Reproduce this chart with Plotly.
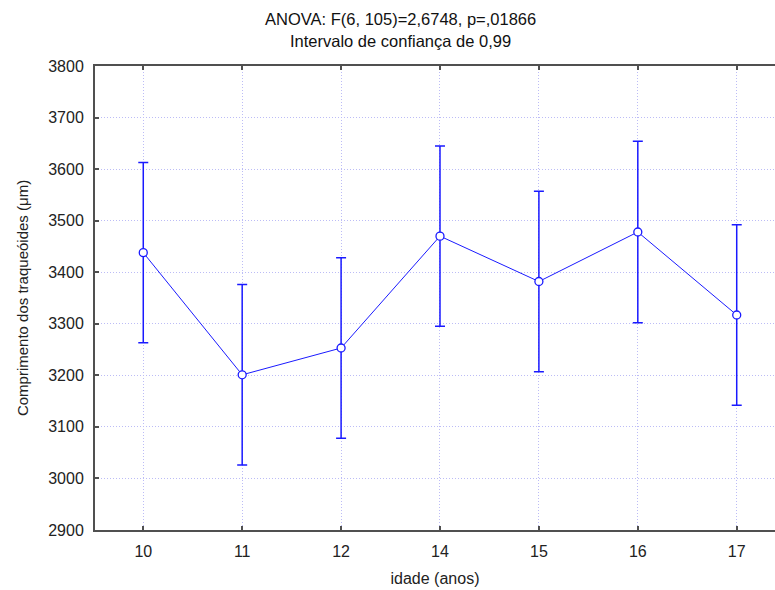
import plotly.graph_objects as go

# Age classes (years) and mean tracheid length with 0.99 confidence half-widths
idade = ["10", "11", "12", "14", "15", "16", "17"]
media = [3438, 3201, 3253, 3470, 3382, 3478, 3317]
ic99 = [175, 175, 175, 175, 175, 176, 175]
y_ticks = [2900, 3000, 3100, 3200, 3300, 3400, 3500, 3600, 3700, 3800]
titulo = ["ANOVA: F(6, 105)=2,6748, p=,01866", "Intervalo de confiança de 0,99"]

FONT = "Liberation Sans, Arial, sans-serif"
BLUE = "#1a1aff"
AXIS = "#505050"
GRID = "#bcbcf6"

W, H = 775, 590
M_L, M_R, M_T, M_B = 95, 0, 66, 60
plot_h = H - M_T - M_B

fig = go.Figure(
    go.Scatter(
        x=idade,
        y=media,
        mode="lines+markers",
        line=dict(color=BLUE, width=1),
        marker=dict(symbol="circle", size=8, color="white",
                    line=dict(color=BLUE, width=1.3)),
        error_y=dict(type="data", array=ic99, visible=True,
                     color=BLUE, thickness=1.5, width=5),
        showlegend=False,
    )
)

# two-line heading above the plot area
for texto, px_above in zip(titulo, [47, 25]):
    fig.add_annotation(
        text=texto, xref="paper", yref="paper",
        x=(400 - M_L) / (W - M_L - M_R), y=1 + px_above / plot_h,
        xanchor="center", yanchor="middle", showarrow=False,
        font=dict(family=FONT, size=16.5, color="#111111"),
    )

fig.update_layout(
    width=W,
    height=H,
    margin=dict(l=M_L, r=M_R, t=M_T, b=M_B),
    paper_bgcolor="white",
    plot_bgcolor="white",
    font=dict(family=FONT, size=16, color="#222222"),
)

fig.update_xaxes(
    type="category",
    range=[-0.488, 6.387],
    showline=True, linecolor=AXIS, linewidth=2, mirror="allticks",
    ticks="inside", ticklen=4, tickcolor=AXIS, tickwidth=1.5,
    showgrid=True, gridcolor=GRID, gridwidth=1, griddash="1px,2px",
    zeroline=False, ticklabelstandoff=6,
    title=dict(text="idade (anos)", font=dict(size=16), standoff=14),
    tickfont=dict(size=16),
)

fig.update_yaxes(
    range=[2900, 3800],
    tickvals=y_ticks,
    showline=True, linecolor=AXIS, linewidth=2, mirror=False,
    ticks="inside", ticklen=4, tickcolor=AXIS, tickwidth=1.5,
    showgrid=True, gridcolor=GRID, gridwidth=1, griddash="1px,2px",
    zeroline=False, ticklabelstandoff=6,
    title=dict(text="Comprimento dos traqueóides (μm)", font=dict(size=15), standoff=16),
    tickfont=dict(size=16),
)

fig.write_html("out.html")
